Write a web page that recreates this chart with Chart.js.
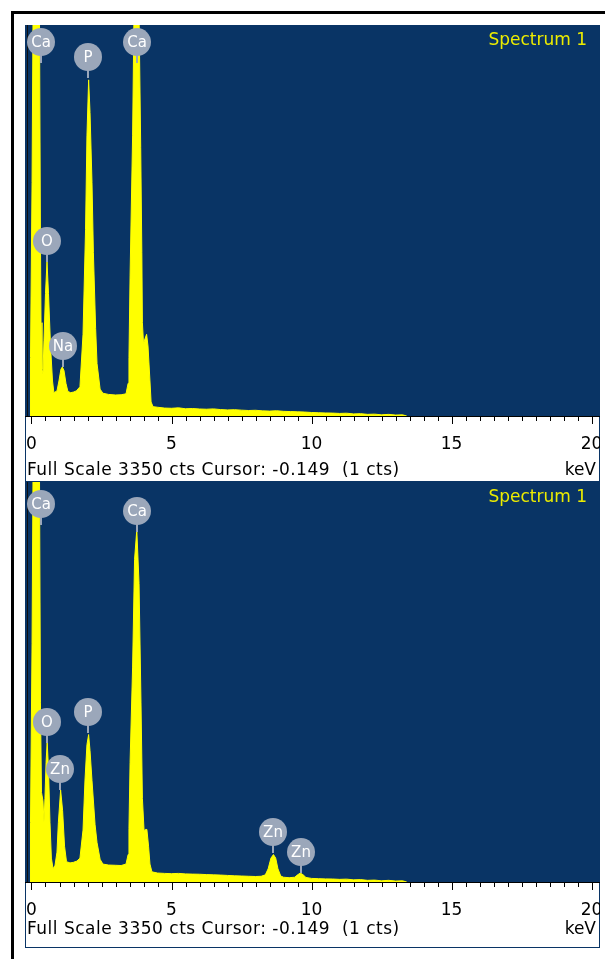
<!DOCTYPE html>
<html lang="en">
<head>
    <meta charset="UTF-8">
    <title>EDS Spectrum 1</title>
    <script src="https://cdn.jsdelivr.net/npm/chart.js@4.4.0/dist/chart.umd.min.js"></script>
    <style>
        body {
            margin: 0;
            background: #fff;
            overflow: hidden;
            font-family: 'DejaVu Sans', sans-serif;
        }
        .frame {
            position: absolute;
            left: 11px;
            top: 11px;
            width: 700px;
            height: 1000px;
            border-left: 3px solid #000;
            border-top: 3px solid #000;
        }
        .panel {
            position: absolute;
            left: 25px;
            width: 575px;
        }
        .panel canvas {
            display: block;
            background: #093465;
        }
        .title {
            position: absolute;
            right: 13px;
            top: 6px;
            color: #ecec00;
            font-size: 17px;
            line-height: 17px;
        }
        .status, .unit {
            position: absolute;
            font-size: 17px;
            line-height: 17px;
            color: #000;
        }
        .status { left: 2px; letter-spacing: 0.5px; }
        .unit { right: 4px; }
    </style>
</head>
<body>
    <div class="frame"></div>

    <div class="panel" style="top:25px;height:457px">
        <canvas id="specTop" width="575" height="457"></canvas>
        <div class="title">Spectrum 1</div>
        <div class="status" style="top:436px">Full Scale 3350 cts Cursor: -0.149&nbsp; (1 cts)</div>
        <div class="unit" style="top:436px">keV</div>
    </div>

    <div class="panel" style="top:482px;height:466px">
        <canvas id="specBottom" width="575" height="466"></canvas>
        <div class="title">Spectrum 1</div>
        <div class="status" style="top:438px">Full Scale 3350 cts Cursor: -0.149&nbsp; (1 cts)</div>
        <div class="unit" style="top:438px">keV</div>
    </div>

    <script>
        // axis setup
        const fullScale = 3350;
        const cursorKeV = -0.149;
        const majorKeV = [0, 5, 10, 15, 20];
        const tickKeV = [];
        for (let v = 0; v <= 20; v += 0.5) tickKeV.push(v);

        // top spectrum (keV, counts)
        const topKeV = [-0.05, -0.036, 0.02, 0.054, 0.12, 0.2, 0.286, 0.32, 0.34, 0.375, 0.41, 0.446, 0.5, 0.554,
            0.607, 0.68, 0.75, 0.8, 0.91, 0.98, 1.05, 1.1, 1.16, 1.23, 1.3, 1.4, 1.5, 1.6, 1.73, 1.84, 1.93,
            1.98, 2.04, 2.09, 2.16, 2.21, 2.29, 2.34, 2.45, 2.55, 2.75, 3.0, 3.2, 3.375, 3.45, 3.48, 3.52,
            3.61, 3.66, 3.75, 3.84, 3.9, 3.94, 3.96, 4.0, 4.05, 4.11, 4.16, 4.23, 4.27, 4.34,
            4.5, 4.75, 5.0, 5.25, 5.5, 5.75, 6.0, 6.25, 6.5, 6.75, 7.0, 7.25, 7.5, 7.75, 8.0, 8.25, 8.5,
            8.75, 9.0, 9.25, 9.5, 9.75, 10.0, 10.25, 10.5, 10.75, 11.0, 11.25, 11.5, 11.75, 12.0, 12.25,
            12.5, 12.75, 13.0, 13.25, 13.4];
        const topCts = [0, 500, 2000, 3400, 3900, 3900, 3400, 1500, 800, 400, 360, 650, 1050, 1320,
            1050, 600, 300, 200, 215, 300, 400, 420, 390, 280, 210, 200, 205, 215, 250, 700, 1600,
            2400, 2880, 2600, 2000, 1400, 750, 450, 230, 195, 185, 180, 182, 190, 280, 500, 1200,
            2400, 3450, 4200, 3450, 2300, 1400, 800, 620, 660, 700, 600, 300, 120, 80,
            75, 68, 66, 70, 62, 64, 60, 58, 61, 55, 52, 54, 50, 47, 49, 44, 42,
            45, 40, 38, 36, 34, 30, 28, 26, 25, 22, 24, 18, 20, 14, 16,
            10, 14, 8, 10, 0];

        // bottom spectrum (keV, counts)
        const botKeV = [-0.05, -0.036, 0.02, 0.054, 0.12, 0.2, 0.286, 0.32, 0.357, 0.41, 0.446, 0.48, 0.52, 0.56,
            0.607, 0.66, 0.71, 0.77, 0.84, 0.91, 0.96, 1.04, 1.11, 1.18, 1.25, 1.375, 1.5, 1.62, 1.73, 1.84,
            1.91, 1.98, 2.04, 2.09, 2.16, 2.27, 2.34, 2.45, 2.55, 2.75, 3.0, 3.2, 3.375, 3.45, 3.48, 3.52,
            3.61, 3.68, 3.76, 3.84, 3.91, 3.96, 4.02, 4.07, 4.12, 4.18, 4.23, 4.3,
            4.5, 4.75, 5.0, 5.25, 5.5, 5.75, 6.0, 6.25, 6.5, 6.75, 7.0, 7.25, 7.5, 7.75, 8.0, 8.2, 8.35,
            8.45, 8.55, 8.64, 8.72, 8.8, 8.9, 9.0, 9.2, 9.4, 9.5, 9.6, 9.7, 9.8, 10.0, 10.25, 10.5, 10.75,
            11.0, 11.25, 11.5, 11.75, 12.0, 12.25, 12.5, 12.75, 13.0, 13.25, 13.4];
        const botCts = [0, 500, 2000, 3400, 3900, 3900, 3400, 1500, 750, 680, 500, 700, 1000, 1170,
            950, 500, 200, 110, 140, 250, 500, 770, 600, 300, 170, 160, 165, 175, 200, 435,
            854, 1150, 1235, 1100, 850, 480, 330, 190, 150, 142, 140, 138, 150, 230, 450, 1000,
            1800, 2700, 2950, 2500, 1500, 700, 430, 440, 440, 300, 150, 85,
            75, 72, 70, 72, 68, 66, 65, 62, 60, 58, 55, 52, 50, 48, 46, 48, 60,
            110, 200, 230, 200, 110, 50, 40, 36, 40, 60, 75, 60, 38, 30, 28, 26, 25,
            22, 24, 18, 20, 14, 16, 10, 14, 8, 10, 0];

        // peak markers: element, line energy (keV), peak height (counts)
        const topPeakNames = ['Ca', 'P', 'Ca', 'O', 'Na'];
        const topPeakKeV = [0.34, 2.03, 3.76, 0.56, 1.11];
        const topPeakCts = [3024, 2896, 3024, 1319, 420];

        const botPeakNames = ['Ca', 'Ca', 'O', 'P', 'Zn', 'Zn', 'Zn'];
        const botPeakKeV = [0.34, 3.76, 0.56, 2.03, 1.02, 8.64, 9.61];
        const botPeakCts = [2990, 2931, 1164, 1248, 770, 243, 75];

        const yellow = '#ffff00';
        const markerGrey = '#9ba7ba';

        // white strip, axis ticks, cursor and element markers
        const spectrumPlugin = {
            id: 'spectrum',
            beforeDraw(chart) {
                const {ctx, chartArea: a, width, height} = chart;
                ctx.save();
                ctx.fillStyle = '#fff';
                ctx.fillRect(1, a.bottom, width - 2, height - a.bottom - 1);
                ctx.restore();
            },
            afterDatasetsDraw(chart, args, opts) {
                const {ctx, chartArea: a, scales: {x, y}} = chart;
                ctx.save();

                // cursor line
                const cx = Math.round(x.getPixelForValue(cursorKeV)) + 0.5;
                ctx.strokeStyle = '#101010';
                ctx.lineWidth = 1;
                ctx.beginPath();
                ctx.moveTo(cx, a.top);
                ctx.lineTo(cx, a.bottom);
                ctx.stroke();

                // axis line + ticks
                ctx.strokeStyle = '#000';
                ctx.beginPath();
                ctx.moveTo(a.left, a.bottom + 0.5);
                ctx.lineTo(a.right, a.bottom + 0.5);
                tickKeV.forEach(v => {
                    const px = Math.round(x.getPixelForValue(v)) + 0.5;
                    const len = majorKeV.includes(v) ? 8 : 5;
                    ctx.moveTo(px, a.bottom);
                    ctx.lineTo(px, a.bottom + len);
                });
                ctx.stroke();

                // element markers
                ctx.font = '15px "DejaVu Sans"';
                ctx.textAlign = 'center';
                ctx.textBaseline = 'middle';
                opts.names.forEach((name, i) => {
                    const px = Math.round(x.getPixelForValue(opts.keV[i]));
                    const tip = y.getPixelForValue(opts.cts[i]);
                    const cy = tip - 21;
                    ctx.strokeStyle = markerGrey;
                    ctx.lineWidth = 2;
                    ctx.beginPath();
                    ctx.moveTo(px, cy + 10);
                    ctx.lineTo(px, tip);
                    ctx.stroke();
                    ctx.fillStyle = markerGrey;
                    ctx.beginPath();
                    ctx.arc(px, cy, 14, 0, Math.PI * 2);
                    ctx.fill();
                    ctx.fillStyle = '#fff';
                    ctx.fillText(name, px, cy + 1);
                });
                ctx.restore();
            }
        };

        function makeSpectrum(id, keV, cts, names, peakKeV, peakCts) {
            const ctx = document.getElementById(id).getContext('2d');
            return new Chart(ctx, {
                type: 'line',
                data: {
                    datasets: [{
                        data: keV.map((e, i) => ({x: e, y: cts[i]})),
                        borderColor: yellow,
                        backgroundColor: yellow,
                        borderWidth: 1,
                        fill: 'origin',
                        pointRadius: 0,
                        tension: 0
                    }]
                },
                options: {
                    responsive: false,
                    animation: false,
                    events: [],
                    layout: {padding: 0},
                    plugins: {
                        legend: {display: false},
                        tooltip: {enabled: false},
                        spectrum: {names: names, keV: peakKeV, cts: peakCts}
                    },
                    scales: {
                        x: {
                            type: 'linear',
                            min: -0.232,
                            max: 20.3,
                            afterBuildTicks: s => { s.ticks = tickKeV.map(v => ({value: v})); },
                            afterFit: s => { s.height = 66; s.paddingLeft = 0; s.paddingRight = 0; },
                            grid: {display: false},
                            border: {display: false},
                            ticks: {
                                autoSkip: false,
                                maxRotation: 0,
                                padding: 10,
                                color: '#000',
                                font: {family: 'DejaVu Sans', size: 17},
                                callback: v => majorKeV.includes(v) ? String(v) : ''
                            }
                        },
                        y: {display: false, min: 0, max: fullScale}
                    }
                },
                plugins: [spectrumPlugin]
            });
        }

        makeSpectrum('specTop', topKeV, topCts, topPeakNames, topPeakKeV, topPeakCts);
        makeSpectrum('specBottom', botKeV, botCts, botPeakNames, botPeakKeV, botPeakCts);
    </script>
</body>
</html>
